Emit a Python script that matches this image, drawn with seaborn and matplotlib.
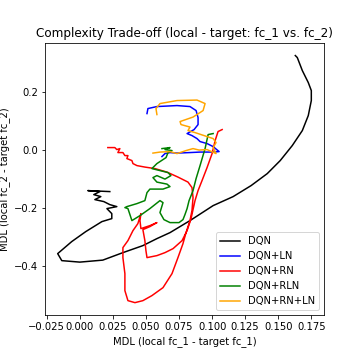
import numpy as np
import pandas as pd
import matplotlib
matplotlib.use("Agg")
import matplotlib.pyplot as plt
import seaborn as sns

# MDL differences, one trajectory per model
dqn_x = [0.0227, 0.0061, 0.0152, 0.0106, 0.0159, 0.0114, 0.0182, 0.0227, 0.0280, 0.0205,
         0.0242, 0.0242, 0.0167, 0.0045, -0.0061, -0.0167, -0.0136, 0.0000, 0.0174, 0.0326,
         0.0477, 0.0583, 0.0682, 0.0833, 0.1008, 0.1159, 0.1295, 0.1417, 0.1515, 0.1606,
         0.1682, 0.1727, 0.1750, 0.1750, 0.1727, 0.1682, 0.1644, 0.1629]
dqn_y = [-0.1448, -0.1414, -0.1448, -0.1552, -0.1621, -0.1724, -0.1793, -0.1897, -0.1966, -0.2034,
         -0.2207, -0.2379, -0.2483, -0.2828, -0.3172, -0.3586, -0.3828, -0.3879, -0.3810, -0.3552,
         -0.3310, -0.3069, -0.2862, -0.2448, -0.1931, -0.1621, -0.1241, -0.0828, -0.0379, 0.0138,
         0.0655, 0.1172, 0.1690, 0.2034, 0.2310, 0.2724, 0.3172, 0.3241]

ln_x = [0.0508, 0.0515, 0.0583, 0.0735, 0.0833, 0.0879, 0.0894, 0.0894, 0.0864, 0.0811,
        0.0848, 0.0886, 0.0909, 0.0962, 0.1008, 0.1053, 0.1008, 0.0909, 0.0833, 0.0735,
        0.0682, 0.0644, 0.0621]
ln_y = [0.1241, 0.1414, 0.1483, 0.1517, 0.1483, 0.1345, 0.1103, 0.0862, 0.0690, 0.0552,
        0.0483, 0.0379, 0.0276, 0.0207, 0.0103, -0.0069, -0.0086, -0.0086, -0.0103, -0.0121,
        -0.0103, -0.0138, -0.0241]

rn_x = [0.0212, 0.0265, 0.0280, 0.0303, 0.0288, 0.0326, 0.0341, 0.0364, 0.0356, 0.0394,
        0.0402, 0.0432, 0.0492, 0.0568, 0.0659, 0.0742, 0.0818, 0.0848, 0.0856, 0.0848,
        0.0833, 0.0803, 0.0780, 0.0742, 0.0697, 0.0629, 0.0545, 0.0477, 0.0417, 0.0364,
        0.0341, 0.0341, 0.0326, 0.0326, 0.0364, 0.0402, 0.0439, 0.0462, 0.0455, 0.0462,
        0.0530, 0.0583, 0.0530, 0.0477, 0.0492, 0.0500, 0.0508, 0.0583, 0.0644, 0.0705,
        0.0773, 0.0811, 0.0841, 0.0871, 0.0894, 0.0924, 0.0962, 0.1000, 0.1023, 0.1045,
        0.1076]
rn_y = [0.0069, 0.0069, 0.0000, 0.0034, -0.0103, -0.0103, -0.0207, -0.0207, -0.0310, -0.0379,
        -0.0483, -0.0552, -0.0603, -0.0655, -0.0776, -0.0948, -0.1121, -0.1310, -0.1655, -0.2103,
        -0.2448, -0.2862, -0.3241, -0.3724, -0.4276, -0.4759, -0.5034, -0.5207, -0.5276, -0.5207,
        -0.4862, -0.4276, -0.3724, -0.3379, -0.3138, -0.2793, -0.2552, -0.2207, -0.2448, -0.2724,
        -0.2621, -0.2517, -0.2655, -0.2759, -0.3138, -0.3483, -0.3724, -0.3655, -0.3552, -0.3414,
        -0.3138, -0.2793, -0.2379, -0.1759, -0.1414, -0.1069, -0.0621, -0.0138, 0.0310, 0.0621,
        0.0690]

rln_x = [0.1008, 0.0970, 0.0947, 0.0909, 0.0879, 0.0856, 0.0826, 0.0811, 0.0795, 0.0780,
         0.0750, 0.0682, 0.0636, 0.0606, 0.0629, 0.0606, 0.0530, 0.0455, 0.0394, 0.0379,
         0.0364, 0.0341, 0.0356, 0.0432, 0.0492, 0.0508, 0.0530, 0.0629, 0.0682, 0.0659,
         0.0583, 0.0553, 0.0583, 0.0644, 0.0689, 0.0667, 0.0591, 0.0545, 0.0583, 0.0652,
         0.0667, 0.0697, 0.0644, 0.0682, 0.0621]
rln_y = [0.0552, 0.0517, 0.0034, -0.0552, -0.1000, -0.1414, -0.1759, -0.2034, -0.2241, -0.2414,
         -0.2517, -0.2517, -0.2414, -0.2172, -0.1828, -0.1759, -0.2034, -0.2276, -0.2448, -0.2241,
         -0.2034, -0.2000, -0.1966, -0.1862, -0.1759, -0.1483, -0.1362, -0.1362, -0.1276, -0.1190,
         -0.1121, -0.0966, -0.0897, -0.1017, -0.0897, -0.0793, -0.0707, -0.0655, -0.0483, -0.0276,
         -0.0103, -0.0034, 0.0000, 0.0069, 0.0034]

rnln_x = [0.0583, 0.0576, 0.0606, 0.0735, 0.0886, 0.0947, 0.0932, 0.0856, 0.0758, 0.0765,
          0.0833, 0.0818, 0.0871, 0.0939, 0.1008, 0.1030, 0.1008, 0.1030, 0.0962, 0.0902,
          0.0856, 0.0803, 0.0735, 0.0682, 0.0606, 0.0553]
rnln_y = [0.1207, 0.1414, 0.1586, 0.1690, 0.1707, 0.1586, 0.1345, 0.1121, 0.0966, 0.0862,
          0.0776, 0.0655, 0.0586, 0.0483, 0.0379, 0.0241, 0.0069, -0.0138, 0.0000, -0.0017,
          0.0034, -0.0034, -0.0138, -0.0069, -0.0086, -0.0121]

models = ["DQN", "DQN+LN", "DQN+RN", "DQN+RLN", "DQN+RN+LN"]
colors = ["black", "blue", "red", "green", "orange"]
series = [(dqn_x, dqn_y), (ln_x, ln_y), (rn_x, rn_y), (rln_x, rln_y), (rnln_x, rnln_y)]

frames = []
for name, (xs, ys) in zip(models, series):
    frames.append(pd.DataFrame({"x": xs, "y": ys, "model": name, "step": np.arange(len(xs))}))
df = pd.concat(frames, ignore_index=True)

fig, ax = plt.subplots(figsize=(5, 5), dpi=72)
fig.subplots_adjust(left=0.125, right=0.9, bottom=0.125, top=0.88)

sns.lineplot(data=df, x="x", y="y", hue="model", units="model", estimator=None,
             sort=False, palette=dict(zip(models, colors)), linewidth=1.5, ax=ax)

ax.set_title("Complexity Trade-off (local - target: fc_1 vs. fc_2)", fontsize=12)
ax.set_xlabel("MDL (local fc_1 - target fc_1)")
ax.set_ylabel("MDL (local fc_2 - target fc_2)")
ax.set_xticks([-0.025, 0.0, 0.025, 0.05, 0.075, 0.1, 0.125, 0.15, 0.175])
ax.set_yticks([-0.4, -0.2, 0.0, 0.2])

handles, labels = ax.get_legend_handles_labels()
ax.legend(handles, labels, loc="lower right")

plt.savefig("out.png", dpi=72)
